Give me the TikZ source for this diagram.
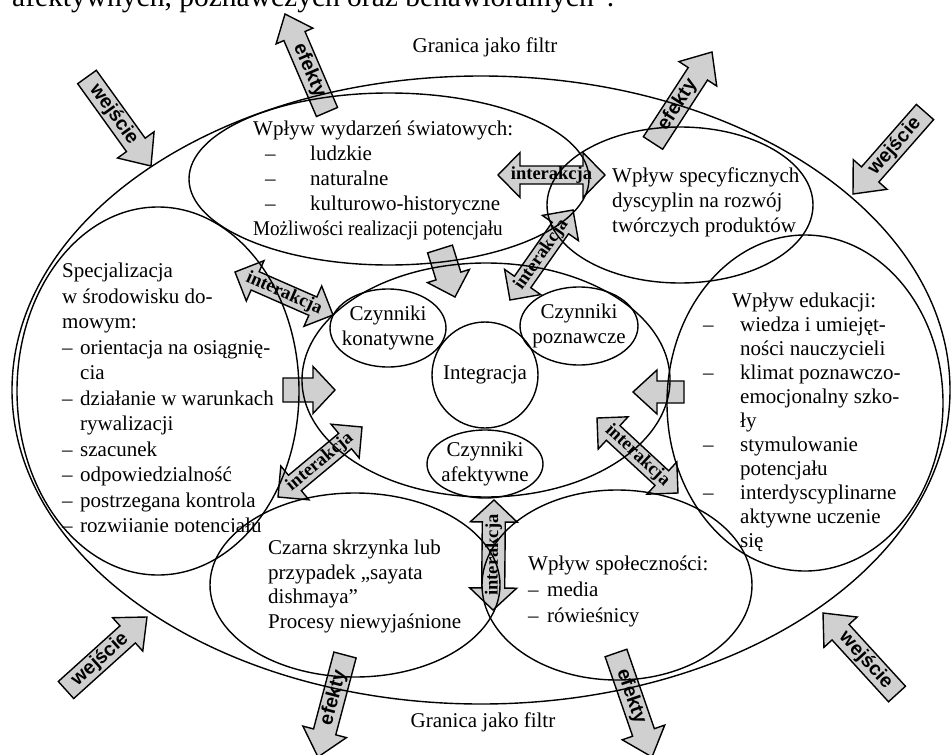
\documentclass[tikz,border=0pt]{standalone}
\usepackage{fontspec}
\setmainfont{Liberation Serif}
\setsansfont{Liberation Sans}
\usetikzlibrary{calc,shapes.geometric}
\definecolor{arrowgray}{RGB}{208,208,208}
% single block arrow: name, tail, tip, half shaft, half head, head length, text, label style
\newcommand\blkarrow[8]{%
  \coordinate (#1-t) at #2;
  \coordinate (#1-p) at #3;
  \coordinate (#1-b) at ($(#1-p)!#6pt!(#1-t)$);
  \draw[arrowbody] ($(#1-t)!#4pt!90:(#1-p)$) -- ($(#1-b)!#4pt!90:(#1-p)$) -- ($(#1-b)!#5pt!90:(#1-p)$) -- (#1-p) -- ($(#1-b)!#5pt!-90:(#1-p)$) -- ($(#1-b)!#4pt!-90:(#1-p)$) -- ($(#1-t)!#4pt!-90:(#1-p)$) -- cycle;
  \path (#1-t) -- (#1-p) node[sloped, pos=0.42, #8] (#1) {#7};
}
% double block arrow: name, tip A, tip C, half shaft, half head, head length, text
\newcommand\dblarrow[7]{%
  \coordinate (#1-a) at #2;
  \coordinate (#1-c) at #3;
  \coordinate (#1-ba) at ($(#1-a)!#6pt!(#1-c)$);
  \coordinate (#1-bc) at ($(#1-c)!#6pt!(#1-a)$);
  \draw[arrowbody] (#1-a) -- ($(#1-ba)!#5pt!90:(#1-c)$) -- ($(#1-ba)!#4pt!90:(#1-c)$) -- ($(#1-bc)!#4pt!-90:(#1-a)$) -- ($(#1-bc)!#5pt!-90:(#1-a)$) -- (#1-c) -- ($(#1-bc)!#5pt!90:(#1-a)$) -- ($(#1-bc)!#4pt!90:(#1-a)$) -- ($(#1-ba)!#4pt!-90:(#1-c)$) -- ($(#1-ba)!#5pt!-90:(#1-c)$) -- cycle;
  \path (#1-a) -- (#1-c) node[sloped, midway, interlabel] (#1) {#7};
}
\begin{document}
\begin{tikzpicture}[x=1pt,y=-1pt,
  ring/.style={draw=black, line width=1.4pt, ellipse, inner sep=0pt},
  arrowbody/.style={fill=arrowgray, draw=black, line width=1.4pt, line join=miter},
  outlabel/.style={font=\fontsize{19.5}{19.5}\selectfont\sffamily\bfseries, inner sep=0pt},
  interlabel/.style={font=\fontsize{18.5}{18.5}\selectfont\bfseries, inner sep=0pt},
  body/.style={font=\fontsize{21}{25}\selectfont, inner sep=0pt, align=left, anchor=north west},
  ctext/.style={font=\fontsize{21}{25}\selectfont, inner sep=0pt, align=center}
]
\path[use as bounding box, fill=white] (0,0) rectangle (951,755);
\clip (0,0) rectangle (951,755);

% cut-off line of running text at the top
\node[anchor=base west, inner sep=0pt, font=\fontsize{29.5}{30}\selectfont] (topline) at (12,6) {afektywnych, poznawczych oraz behawioralnych”.};

% block arrows
\blkarrow{inTL}{(87,77)}{(151,166)}{11.5}{22.5}{26}{wejście}{outlabel}
\blkarrow{efT}{(327,112)}{(285,14)}{11.5}{20}{24}{efekty}{outlabel}
\blkarrow{efTR}{(653,143)}{(712,52)}{11.5}{22.5}{26}{efekty}{outlabel}
\blkarrow{inTR}{(925,112)}{(853,194)}{11.5}{22.5}{26}{wejście}{outlabel}
\blkarrow{inBL}{(66,690)}{(147,617)}{11.5}{22.5}{26}{wejście}{outlabel}
\blkarrow{inBR}{(897,694)}{(823,613)}{11.5}{22.5}{26}{wejście}{outlabel}
\blkarrow{efBR}{(616,653)}{(652,757)}{11.5}{22.5}{26}{efekty}{outlabel}
\blkarrow{efBL}{(345,655)}{(318,757)}{11.5}{22.5}{26}{efekty}{outlabel}
\blkarrow{toC1}{(283,390)}{(335,390)}{12}{23.5}{22}{}{outlabel}
\blkarrow{toC2}{(684,392)}{(633,392)}{11}{22}{24}{}{outlabel}
\blkarrow{toC3}{(440,249)}{(455,297)}{13}{22}{22}{}{outlabel}

\dblarrow{iaTop}{(498,175)}{(605,175)}{9}{22.5}{22}{interakcja}
\dblarrow{iaTR}{(510,300)}{(573,210)}{10}{22}{22}{interakcja}
\dblarrow{iaTL}{(235,272)}{(333,315)}{10}{22}{22}{interakcja}
\dblarrow{iaBL}{(278,497)}{(362,427)}{10}{22}{22}{interakcja}
\dblarrow{iaBR}{(597,418)}{(678,493)}{10}{22}{22}{interakcja}
\dblarrow{iaB}{(493,610)}{(494,500)}{11.5}{23.5}{22}{interakcja}

% ellipses
\node[ring, minimum width=938pt, minimum height=628pt] (outer) at (481,390) {};
\node[ring, minimum width=400pt, minimum height=172pt] (world) at (389,179) {};
\node[ring, minimum width=266pt, minimum height=156pt] (disc) at (680,205) {};
\node[ring, minimum width=282pt, minimum height=368pt] (home) at (158,391) {};
\node[ring, minimum width=368pt, minimum height=234pt] (core) at (486,380) {};
\node[ring, minimum width=276pt, minimum height=336pt] (edu) at (805,403) {};
\node[ring, minimum width=290pt, minimum height=184pt] (black) at (355,585) {};
\node[ring, minimum width=270pt, minimum height=190pt] (comm) at (617,585) {};
\node[ring, minimum width=116pt, minimum height=78pt] (konat) at (388,328) {};
\node[ring, minimum width=118pt, minimum height=78pt] (pozn) at (579,326) {};
\node[ring, minimum width=106pt, minimum height=106pt] (integr) at (485,375) {};
\node[ring, minimum width=116pt, minimum height=68pt] (afekt) at (485,464) {};

% texts
\node[ctext] (granT) at (485,47) {Granica jako filtr};
\node[ctext] (granB) at (483,722) {Granica jako filtr};
\node[body] (worldtxt) at (253,121) {Wpływ wydarzeń światowych:\\
\hspace*{12pt}\makebox[45pt][l]{–}ludzkie\\
\hspace*{12pt}\makebox[45pt][l]{–}naturalne\\
\hspace*{12pt}\makebox[45pt][l]{–}kulturowo-historyczne\\
\scalebox{0.91}[1]{Możliwości realizacji potencjału}};
\node[body] (disctxt) at (612,168) {Wpływ specyficznych\\dyscyplin na rozwój\\twórczych produktów};
\begin{scope}
\clip (0,200) rectangle (330,531);
\node[body, font=\fontsize{21}{25.5}\selectfont] (hometxt) at (62,263) {Specjalizacja\\
w środowisku do-\\
mowym:\\
\makebox[18pt][l]{–}orientacja na osiągnię-\\
\hspace*{18pt}cia\\
\makebox[18pt][l]{–}działanie w warunkach\\
\hspace*{18pt}rywalizacji\\
\makebox[18pt][l]{–}szacunek\\
\makebox[18pt][l]{–}odpowiedzialność\\
\makebox[18pt][l]{–}postrzegana kontrola\\
\makebox[18pt][l]{–}rozwijanie potencjału};
\end{scope}
\node[body, font=\fontsize{21}{24}\selectfont] (edutxt) at (703,293) {\hspace*{29pt}Wpływ edukacji:\\
\makebox[37pt][l]{–}wiedza i umiejęt-\\
\hspace*{37pt}ności nauczycieli\\
\makebox[37pt][l]{–}klimat poznawczo-\\
\hspace*{37pt}emocjonalny szko-\\
\hspace*{37pt}ły\\
\makebox[37pt][l]{–}stymulowanie\\
\hspace*{37pt}potencjału\\
\makebox[37pt][l]{–}interdyscyplinarne\\
\hspace*{37pt}aktywne uczenie\\
\hspace*{37pt}się};
\node[body, font=\fontsize{21}{24.5}\selectfont] (blacktxt) at (268,540) {Czarna skrzynka lub\\przypadek „sayata\\dishmaya”\\Procesy niewyjaśnione};
\node[body, font=\fontsize{21}{26}\selectfont] (commtxt) at (528,556) {Wpływ społeczności:\\
\makebox[19pt][l]{–}media\\
\makebox[19pt][l]{–}rówieśnicy};
\node[ctext] (konattxt) at (388,328) {Czynniki\\konatywne};
\node[ctext] (prozntxt) at (579,326) {Czynniki\\poznawcze};
\node[ctext] (integrtxt) at (485,375) {Integracja};
\node[ctext] (afekttxt) at (485,464) {Czynniki\\afektywne};
\end{tikzpicture}
\end{document}
